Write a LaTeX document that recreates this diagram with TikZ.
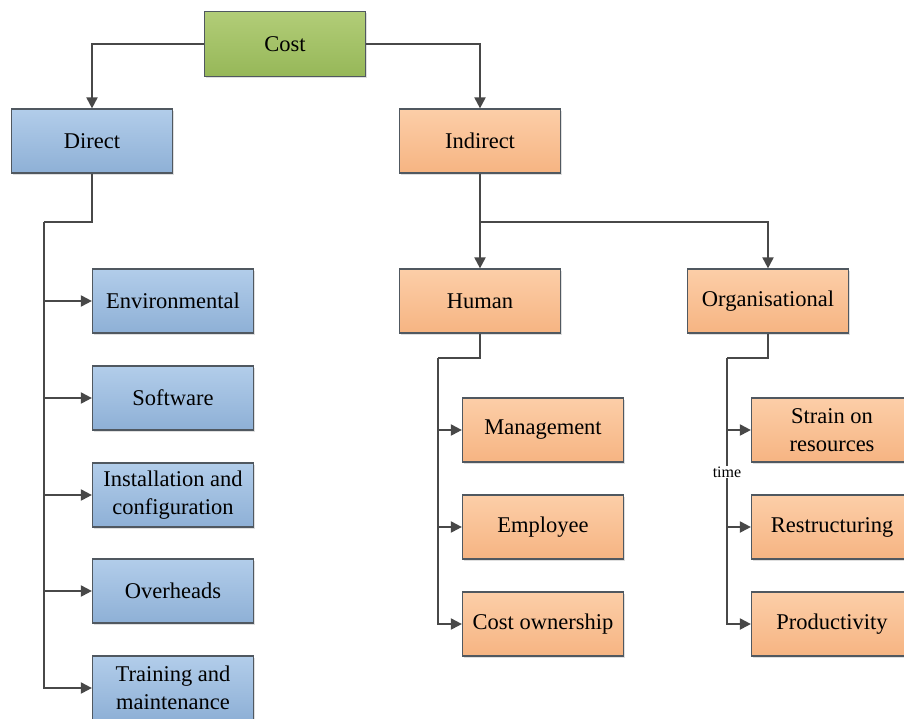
\documentclass[tikz,border=0pt]{standalone}
\usepackage{fontspec}
\setmainfont{Liberation Serif}
\usetikzlibrary{arrows.meta,shadows}

\definecolor{lnk}{RGB}{72,72,72}
\definecolor{edge}{RGB}{80,88,96}
\definecolor{greentop}{RGB}{178,205,120}
\definecolor{greenbot}{RGB}{150,183,88}
\definecolor{bluetop}{RGB}{178,205,234}
\definecolor{bluebot}{RGB}{142,176,214}
\definecolor{orangetop}{RGB}{252,206,168}
\definecolor{orangebot}{RGB}{246,180,130}

\begin{document}
\begin{tikzpicture}[x=1pt, y=-1pt,
    box/.style={draw=edge, line width=1.2pt, minimum width=161pt, minimum height=64pt,
      align=center, inner sep=2pt, font=\fontsize{22.5}{28}\selectfont,
      drop shadow={shadow xshift=1.5pt, shadow yshift=-1.5pt, opacity=0.25}},
    greenbox/.style={box, top color=greentop, bottom color=greenbot},
    bluebox/.style={box, top color=bluetop, bottom color=bluebot},
    orangebox/.style={box, top color=orangetop, bottom color=orangebot},
    link/.style={draw=lnk, line width=2pt},
    arr/.style={link, -{Triangle[length=11pt,width=11pt]}}]

  \useasboundingbox (0,0) rectangle (904,718);

  %% top
  \node[greenbox, minimum height=65pt] (cost) at (285,44) {Cost};
  \node[bluebox] (direct) at (92,141) {Direct};
  \node[orangebox] (indirect) at (480,141) {Indirect};

  \draw[arr] (cost.west) -| (direct.north);
  \draw[arr] (cost.east) -| (indirect.north);

  %% direct costs
  \node[bluebox] (env) at (173,301) {Environmental};
  \node[bluebox] (soft) at (173,398) {Software};
  \node[bluebox] (inst) at (173,495) {Installation and\\configuration};
  \node[bluebox] (over) at (173,591) {Overheads};
  \node[bluebox] (train) at (173,688) {Training and\\maintenance};

  \coordinate (dbus) at (44,222);
  \draw[link] (direct.south) |- (dbus);
  \foreach \n in {env,soft,inst,over,train}
    \draw[arr] (dbus) |- (\n.west);

  %% indirect costs
  \node[orangebox] (human) at (480,301) {Human};
  \node[orangebox] (org) at (768,301) {Organisational};

  \coordinate (ibus) at (480,222);
  \draw[link] (indirect.south) -- (ibus);
  \draw[arr] (ibus) -- (human.north);
  \draw[arr] (ibus) -| (org.north);

  %% human
  \node[orangebox] (mgmt) at (543,430) {Management};
  \node[orangebox] (empl) at (543,527) {Employee};
  \node[orangebox] (own) at (543,624) {Cost ownership};

  \coordinate (hbus) at (438,358);
  \draw[link] (human.south) |- (hbus);
  \foreach \n in {mgmt,empl,own}
    \draw[arr] (hbus) |- (\n.west);

  %% organisational
  \node[orangebox] (strain) at (832,430) {Strain on\\resources};
  \node[orangebox] (restr) at (832,527) {Restructuring};
  \node[orangebox] (prod) at (832,624) {Productivity};

  \coordinate (obus) at (727,358);
  \draw[link] (org.south) |- (obus);
  \foreach \n in {strain,restr,prod}
    \draw[arr] (obus) |- (\n.west);
  \node[fill=white, inner sep=1pt, font=\fontsize{16}{18}\selectfont] (time) at (727,472) {time};

\end{tikzpicture}
\end{document}
